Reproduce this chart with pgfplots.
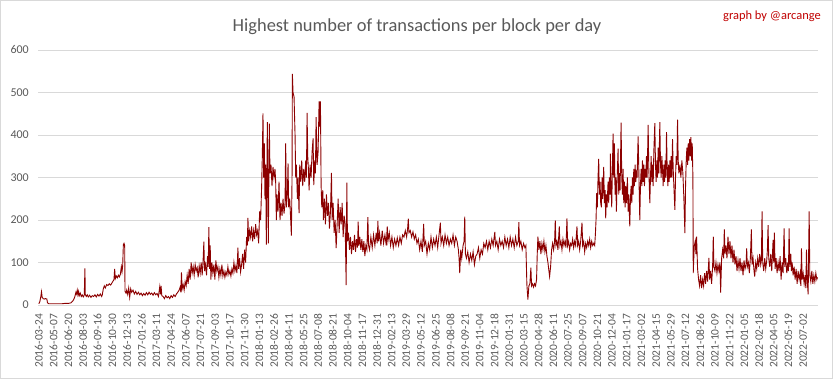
\documentclass[border=0pt]{standalone}
\usepackage{pgfplots}
\pgfplotsset{compat=1.18}
\usepackage{fontspec}
\setmainfont{Carlito}
\definecolor{linered}{RGB}{140,0,0}
\definecolor{txtgray}{RGB}{89,89,89}
\definecolor{gridgray}{RGB}{217,217,217}
\definecolor{signred}{RGB}{192,0,0}
\begin{document}
\begin{tikzpicture}
\useasboundingbox (-38.5bp,-74bp) rectangle (794.5bp,305bp);
\draw[gridgray,line width=0.8bp] (-38bp,-73.5bp) rectangle (794bp,304.5bp);
\begin{axis}[
  at={(0,0)}, anchor=south west,
  scale only axis, width=779bp, height=255bp,
  xmin=-1, xmax=2331, ymin=0, ymax=600,
  axis line style={draw=none},
  tick style={draw=none},
  ytick={0,100,...,600},
  ymajorgrids, grid style={gridgray,line width=0.8bp},
  xtick={0,44,...,2288},
  xticklabels={2016-03-24,2016-05-07,2016-06-20,2016-08-03,2016-09-16,2016-10-30,2016-12-13,2017-01-26,2017-03-11,2017-04-24,2017-06-07,2017-07-21,2017-09-03,2017-10-17,2017-11-30,2018-01-13,2018-02-26,2018-04-11,2018-05-25,2018-07-08,2018-08-21,2018-10-04,2018-11-17,2018-12-31,2019-02-13,2019-03-29,2019-05-12,2019-06-25,2019-08-08,2019-09-21,2019-11-04,2019-12-18,2020-01-31,2020-03-15,2020-04-28,2020-06-11,2020-07-25,2020-09-07,2020-10-21,2020-12-04,2021-01-17,2021-03-02,2021-04-15,2021-05-29,2021-07-12,2021-08-26,2021-10-09,2021-11-22,2022-01-05,2022-02-18,2022-04-05,2022-05-19,2022-07-02},
  xticklabel style={rotate=90,anchor=east,inner sep=0pt,font=\fontsize{11.5}{12}\selectfont,text=txtgray},
  yticklabel style={anchor=east,inner sep=0pt,font=\fontsize{12}{12}\selectfont,text=txtgray},
  xticklabel shift=9bp, yticklabel shift=9.5bp,
  /pgf/number format/assume math mode=true,
  clip=false,
]
\addplot[linered,line width=0.9bp] coordinates {
(0,3)(3,8)(6,20)(8,31)(10,18)(13,15)(16,14)(20,15)(24,14)(26,5)(30,3)(40,3)(50,3)(60,3)(70,3)(80,4)(90,4)(96,5)(100,8)(104,12)(108,20)(111,30)(113,26)(115,35)(117,24)(119,32)(121,22)(124,28)(127,20)(130,24)(133,19)(136,23)(138,86)(139,25)(142,20)(145,24)(148,19)(152,23)(156,18)(160,22)(164,20)(168,24)(172,19)(176,25)(180,21)(184,26)(188,20)(190,24)(193,38)(196,45)(199,40)(203,48)(207,46)(211,50)(215,47)(219,52)(222,56)(225,60)(227,85)(229,62)(232,68)(235,64)(238,70)(241,66)(244,72)(247,90)(249,78)(251,92)(253,142)(255,145)(257,140)(258,32)(261,28)
(263,35)(266,25)(269,40)(272,18)(275,38)(278,30)(282,35)(286,26)(290,32)(294,25)(298,30)(302,24)(306,28)(310,22)(314,27)(318,23)(322,29)(326,24)(330,30)(334,25)(338,28)(342,23)(346,29)(350,24)(354,27)(358,20)(362,43)(364,25)(366,45)(368,22)(372,20)(376,15)(380,22)(384,17)(388,20)(392,15)(396,22)(400,18)(404,24)(408,20)(412,26)(416,30)
(420,35)(423,42)(425,30)(427,77)(429,38)(432,48)(435,35)(438,55)(441,45)(444,70)(447,50)(450,85)(453,60)(456,100)(459,75)(462,90)(465,70)(468,95)(471,80)(474,88)(477,65)(480,92)(483,75)(486,100)(489,70)(492,110)(494,149)(496,80)(499,95)(502,70)(505,115)(507,90)(509,183)(511,85)(513,140)(515,60)(518,100)(521,75)(524,95)(527,60)(530,105)(533,80)(536,90)(539,65)(542,85)(545,70)(548,95)(551,68)(554,80)(557,65)(560,78)(563,70)(566,90)(569,72)(572,80)(575,68)(578,85)(581,75)(584,100)(587,80)(590,92)(593,75)(596,135)(598,85)(601,110)(604,78)(607,95)(610,120)(613,85)(616,130)(619,100)(622,160)(624,140)(626,205)(628,150)(631,175)(634,160)(637,185)(640,150)(643,175)(646,155)(649,190)(652,165)(655,175)(658,145)(661,220)(664,200)(667,280)(669,350)
(671,451)(673,300)(675,380)(677,250)(679,330)(681,142)(684,430)(687,145)(690,427)(692,310)(695,330)(698,280)(701,325)(704,300)(707,320)(709,290)(711,200)(713,260)(716,220)(719,290)(722,200)(725,240)(728,210)(731,250)(734,215)(737,240)(739,380)(741,230)(744,260)(746,333)(748,230)(751,250)(754,200)(756,163)(758,300)(759,544)(761,500)(764,490)(767,400)(769,300)(771,330)(774,250)(776,300)(779,216)(781,330)(784,290)(787,340)(790,280)(793,320)(796,290)(799,340)(801,300)(803,452)(805,350)(807,320)(809,270)(812,330)(815,300)(818,360)(821,392)(823,282)(826,340)(828,310)(830,442)(833,330)(836,360)(839,479)(841,420)(843,479)(845,282)(847,230)(850,270)(852,200)(855,250)(858,190)(861,260)(864,210)(867,240)(870,180)(873,220)(876,311)(878,200)(881,240)(884,170)(887,200)(890,134)(893,190)(896,250)(899,170)(902,230)(905,190)(908,240)(911,160)(914,210)(917,190)(920,47)(922,288)(924,150)(927,170)(930,130)(933,160)(936,120)(939,150)(942,130)(945,165)(948,125)(951,155)(954,135)(956,196)(958,140)(961,160)(964,130)(967,155)(970,125)(973,150)(976,115)(979,140)(982,130)(985,207)(987,140)
(990,130)(994,160)(998,135)(1002,165)(1006,140)(1010,170)(1013,145)(1015,198)(1017,150)(1020,170)(1024,140)(1028,175)(1032,145)(1036,165)(1040,140)(1043,185)(1045,150)(1049,170)(1053,140)(1057,160)(1061,135)(1065,155)(1069,140)(1073,158)(1077,140)(1081,160)(1085,145)(1089,165)(1093,160)(1097,175)(1101,160)(1104,180)(1106,203)(1108,170)(1112,175)(1116,160)(1120,172)(1124,155)(1128,165)(1132,145)(1136,155)(1140,130)(1144,150)(1148,125)(1152,191)(1154,140)(1158,150)(1162,120)(1166,145)(1170,130)(1174,160)(1178,135)(1182,155)(1186,140)(1190,160)(1194,135)(1198,165)(1202,194)(1204,145)(1208,160)(1212,140)(1216,165)(1220,145)(1224,160)(1228,140)(1232,155)(1236,145)(1240,165)(1244,140)(1248,160)(1252,150)(1256,130)(1258,110)(1260,75)(1263,130)(1266,110)(1270,140)(1273,150)(1275,208)(1277,120)(1280,110)(1284,125)(1288,100)(1292,120)(1296,105)(1300,125)(1304,95)(1308,115)(1312,120)(1316,135)(1320,110)(1324,130)(1328,120)(1332,145)(1336,135)(1340,150)(1344,130)(1348,150)(1352,135)(1356,155)(1360,140)(1365,172)(1367,140)(1371,150)(1375,130)(1379,155)(1383,140)(1387,150)(1391,135)(1395,160)(1399,140)(1403,155)(1407,135)(1411,160)(1415,140)(1419,155)(1423,135)(1427,160)(1431,140)(1435,150)(1437,195)(1439,140)(1443,150)(1447,130)(1451,145)(1455,135)(1458,140)
(1461,48)(1464,13)(1467,45)(1470,50)(1473,88)(1475,45)(1478,50)(1481,42)(1484,50)(1487,45)(1490,60)(1492,120)(1494,161)(1497,130)(1500,150)(1503,120)(1506,145)(1509,130)(1512,150)(1515,125)(1518,140)(1521,115)(1524,100)(1527,80)(1529,67)(1532,90)(1535,130)(1538,145)(1541,130)(1544,150)(1546,199)(1548,140)(1551,150)(1554,130)(1558,185)(1560,140)(1563,150)(1566,130)(1569,155)(1572,140)(1575,150)(1578,135)(1581,204)(1583,140)(1586,150)(1589,130)(1592,145)(1595,140)(1598,155)(1601,135)(1604,150)(1607,140)(1611,185)(1613,140)(1616,150)(1619,130)(1622,150)(1626,194)(1628,140)(1631,150)(1634,125)(1637,145)(1640,135)(1643,150)(1646,140)(1649,155)(1652,135)(1655,150)(1658,140)(1661,145)(1664,140)(1666,165)(1668,200)
(1670,263)(1672,230)(1674,300)(1676,344)(1678,260)(1680,290)(1682,240)(1684,230)(1686,300)(1688,250)(1691,325)(1693,240)(1695,270)(1697,204)(1699,260)(1701,230)(1704,290)(1706,240)(1708,300)(1710,260)(1711,356)(1713,280)(1715,230)(1717,320)(1719,403)(1721,300)(1723,380)(1725,260)(1727,300)(1729,220)(1731,290)(1734,368)(1736,260)(1738,310)(1740,270)(1743,429)(1745,300)(1747,260)(1749,320)(1751,240)(1753,290)(1755,230)(1757,280)(1759,240)(1762,300)(1764,220)(1766,260)(1769,185)(1771,250)(1773,280)(1775,240)(1777,300)(1779,260)(1781,320)(1783,280)(1785,330)(1787,290)(1789,310)(1791,300)(1794,397)(1796,320)(1799,200)(1801,280)(1803,320)(1805,280)(1807,340)(1809,290)(1811,330)(1813,280)(1815,320)(1817,300)(1819,350)(1821,300)(1824,424)(1826,320)(1829,240)(1831,300)(1833,350)(1835,290)(1837,330)(1839,280)(1841,360)(1844,428)(1846,330)(1848,290)(1850,340)(1852,300)(1854,370)(1856,310)(1859,430)(1861,330)(1863,300)(1865,350)(1867,320)(1869,280)(1871,330)(1873,290)(1875,340)(1877,300)(1879,407)(1881,320)(1883,280)(1885,330)(1887,290)(1889,340)(1891,300)(1893,350)(1895,300)(1897,390)(1899,320)(1901,280)(1904,224)(1906,300)(1908,350)(1910,330)(1912,436)(1914,340)(1916,310)(1919,330)(1922,300)(1925,340)(1928,310)(1931,250)(1934,169)(1936,280)(1938,340)(1940,370)(1942,330)(1944,380)(1946,340)(1948,390)(1950,350)(1952,395)(1954,340)(1956,380)(1958,300)
(1959,75)(1962,138)(1965,150)(1967,120)(1969,161)(1972,85)(1975,60)(1978,45)(1981,70)(1984,40)(1987,60)(1990,45)(1993,75)(1996,50)(1999,80)(2002,55)(2006,111)(2008,60)(2011,80)(2014,50)(2017,90)(2019,161)(2021,90)(2024,80)(2027,100)(2030,75)(2033,95)(2036,80)(2039,100)(2041,29)(2044,110)(2047,130)(2050,110)(2052,178)(2054,120)(2057,140)(2060,110)(2063,161)(2066,120)(2069,150)(2072,110)(2075,140)(2078,100)(2081,130)(2084,95)(2087,115)(2090,80)(2093,105)(2096,85)(2099,110)(2102,80)(2105,100)(2108,70)(2111,105)(2114,85)(2117,95)(2119,133)(2121,90)(2124,100)(2127,75)(2130,110)(2133,178)(2135,95)(2138,110)(2141,80)(2143,67)(2146,100)(2149,85)(2152,110)(2155,90)(2158,120)(2161,95)(2163,105)(2165,220)(2167,100)(2170,80)(2173,110)(2176,85)(2179,105)(2181,130)(2183,188)(2185,110)(2188,90)(2191,120)(2194,80)(2198,153)(2200,100)(2202,170)(2204,85)(2207,110)(2210,75)(2213,100)(2216,80)(2219,115)(2222,60)(2225,100)(2228,75)(2231,180)(2233,90)(2236,110)(2239,75)(2242,100)(2244,80)(2246,180)(2248,90)(2251,120)(2253,80)(2255,100)(2258,70)(2261,90)(2264,60)(2267,85)(2270,50)(2273,80)(2276,60)(2279,75)(2281,45)(2283,133)(2285,60)(2288,75)(2291,50)(2294,70)(2296,40)(2298,130)(2300,60)(2303,25)(2306,220)(2308,70)(2311,55)(2314,80)(2317,50)(2320,70)(2323,55)(2326,75)(2329,60)(2331,65)
};
\end{axis}
\node[text=txtgray,font=\fontsize{18.5}{20}\selectfont] at (378.5bp,278bp) {Highest number of transactions per block per day};
\node[text=signred,font=\fontsize{12.5}{13}\selectfont,anchor=east,inner sep=0pt] at (782.5bp,289bp) {graph by @arcange};
\end{tikzpicture}
\end{document}
